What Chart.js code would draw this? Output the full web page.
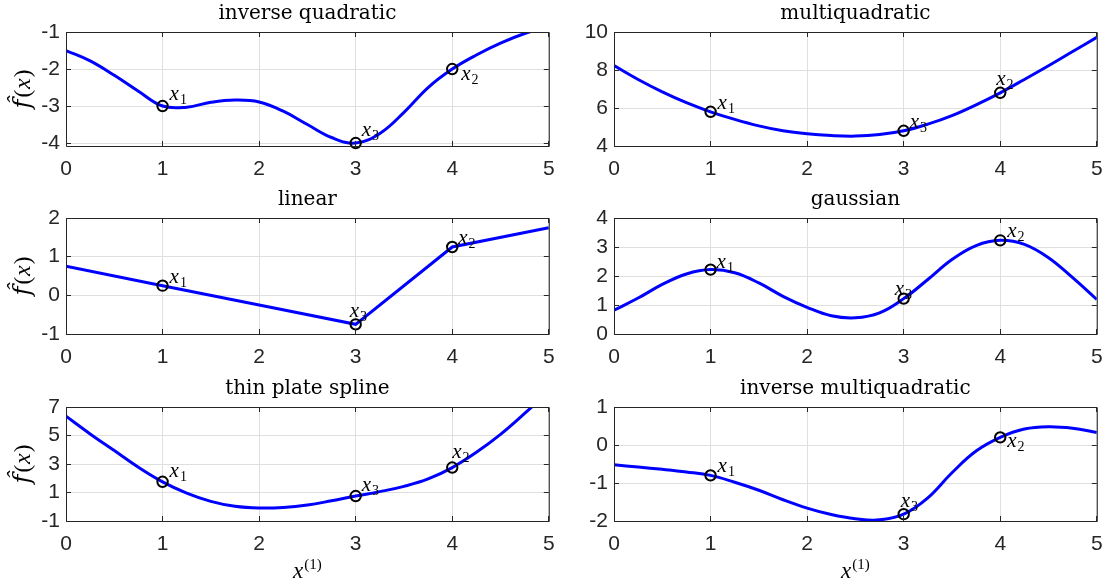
<!DOCTYPE html>
<html>
<head>
<meta charset="utf-8">
<script src="https://cdn.jsdelivr.net/npm/chart.js@4.4.1/dist/chart.umd.min.js"></script>
<style>
  body { margin: 0; background: #fff; }
  #wrap { position: relative; width: 1104px; height: 584px; overflow: hidden; background: #fff; }
  #wrap canvas { position: absolute; }
</style>
</head>
<body>
<div id="wrap"></div>
<script>
// valori
var xGrid = [0, 0.25, 0.5, 0.75, 1, 1.25, 1.5, 1.75, 2, 2.25, 2.5, 2.75, 3, 3.25, 3.5, 3.75, 4, 4.25, 4.5, 4.75, 5];
var invQuadY = [-1.50, -1.78, -2.17, -2.60, -3.00, -3.03, -2.90, -2.84, -2.89, -3.14, -3.50, -3.85, -4.00, -3.74, -3.17, -2.50, -2.00, -1.62, -1.30, -1.04, -0.85];
var multiQuadY = [8.23, 7.50, 6.85, 6.28, 5.80, 5.40, 5.06, 4.80, 4.64, 4.55, 4.52, 4.60, 4.80, 5.15, 5.60, 6.17, 6.80, 7.50, 8.22, 8.97, 9.72];
var linearX = [0, 1, 2, 3, 4, 5];
var linearY = [0.75, 0.25, -0.25, -0.75, 1.25, 1.75];
var gaussY = [0.82, 1.24, 1.71, 2.07, 2.22, 2.11, 1.76, 1.30, 0.92, 0.63, 0.56, 0.73, 1.22, 1.88, 2.57, 3.05, 3.23, 3.09, 2.63, 1.94, 1.19];
var tpsY = [6.35, 5.11, 3.94, 2.77, 1.75, 0.96, 0.38, 0.03, -0.09, -0.05, 0.12, 0.42, 0.75, 1.06, 1.43, 1.95, 2.75, 3.82, 5.08, 6.55, 8.10];
var invMultiY = [-0.52, -0.58, -0.64, -0.71, -0.80, -0.98, -1.19, -1.44, -1.66, -1.83, -1.94, -1.97, -1.82, -1.39, -0.73, -0.16, 0.20, 0.42, 0.48, 0.44, 0.33];

// punti campione x1, x2, x3
var sampleX = [1, 4, 3];
var invQuadS = [-3, -2, -4];
var multiQuadS = [5.8, 6.8, 4.8];
var linearS = [0.25, 1.25, -0.75];
var gaussS = [2.22, 3.23, 1.22];
var tpsS = [1.75, 2.75, 0.75];
var invMultiS = [-0.8, 0.2, -1.82];

var titles = ['inverse quadratic', 'multiquadratic', 'linear', 'gaussian', 'thin plate spline', 'inverse multiquadratic'];
var xTicks = [0, 1, 2, 3, 4, 5];
var invQuadTicks = [-4, -3, -2, -1];
var multiQuadTicks = [4, 6, 8, 10];
var linearTicks = [-1, 0, 1, 2];
var gaussTicks = [0, 1, 2, 3, 4];
var tpsTicks = [-1, 1, 3, 5, 7];
var invMultiTicks = [-2, -1, 0, 1];

// layout (pixel)
var colLeft = [66, 614], colRight = [549, 1097];
var canvasLeft = [0, 560], canvasRight = [556, 1104];
var rowTop = [32, 218, 407], rowBottom = [146, 334, 521];
var titleH = 30, xAxisH = [38, 38, 63];

var tickFont = {family: 'Liberation Sans', size: 21};
var tickColor = '#262626';
var gridColor = '#dfdfdf';

var panels = [
    {title: titles[0], x: xGrid, y: invQuadY, s: invQuadS, min: -4.08, max: -1, ticks: invQuadTicks, row: 0, col: 0, tension: 0.4, offs: [[7, -6], [9, 11], [6, -7]]},
    {title: titles[1], x: xGrid, y: multiQuadY, s: multiQuadS, min: 4, max: 10, ticks: multiQuadTicks, row: 0, col: 1, tension: 0.4, offs: [[7, -3], [-4, -8], [6, -3]]},
    {title: titles[2], x: linearX, y: linearY, s: linearS, min: -1, max: 2, ticks: linearTicks, row: 1, col: 0, tension: 0, offs: [[7, -3], [6, -3], [-6, -7]]},
    {title: titles[3], x: xGrid, y: gaussY, s: gaussS, min: 0, max: 4, ticks: gaussTicks, row: 1, col: 1, tension: 0.4, offs: [[6, -2], [7, -3], [-9, -4]]},
    {title: titles[4], x: xGrid, y: tpsY, s: tpsS, min: -1, max: 7, ticks: tpsTicks, row: 2, col: 0, tension: 0.4, offs: [[7, -5], [0, -10], [6, -5]]},
    {title: titles[5], x: xGrid, y: invMultiY, s: invMultiS, min: -2, max: 1, ticks: invMultiTicks, row: 2, col: 1, tension: 0.4, offs: [[7, -3], [7, 10], [-3, -7]]}
];

function toPoints(xs, ys) {
    var pts = [];
    for (var i = 0; i < xs.length; i++) {
        pts.push({x: xs[i], y: ys[i]});
    }
    return pts;
}

// scrive una sequenza di pezzi di testo con font diversi
function drawRuns(ctx, runs, x, y, align) {
    var total = 0;
    runs.forEach(function (r) {
        ctx.font = r.font;
        r.w = ctx.measureText(r.t).width;
        total += r.w + (r.gap || 0);
    });
    var cx = align === 'center' ? x - total / 2 : x;
    runs.forEach(function (r) {
        ctx.font = r.font;
        ctx.fillText(r.t, cx, y + (r.dy || 0));
        cx += r.w + (r.gap || 0);
    });
}

var matlabAxes = {
    id: 'matlabAxes',
    afterDraw: function (chart) {
        var opt = chart.options.plugins.matlabAxes;
        var ctx = chart.ctx;
        var a = chart.chartArea;
        var sx = chart.scales.x, sy = chart.scales.y;
        ctx.save();
        ctx.strokeStyle = '#262626';
        ctx.lineWidth = 1;
        ctx.beginPath();
        ctx.rect(a.left + 0.5, a.top + 0.5, a.right - a.left, a.bottom - a.top);
        sx.ticks.forEach(function (t) {
            var p = Math.round(sx.getPixelForValue(t.value) - 0.5) + 0.5;
            ctx.moveTo(p, a.bottom); ctx.lineTo(p, a.bottom - 5);
            ctx.moveTo(p, a.top); ctx.lineTo(p, a.top + 5);
        });
        sy.ticks.forEach(function (t) {
            var p = Math.round(sy.getPixelForValue(t.value) - 0.5) + 0.5;
            ctx.moveTo(a.left, p); ctx.lineTo(a.left + 5, p);
            ctx.moveTo(a.right, p); ctx.lineTo(a.right - 5, p);
        });
        ctx.stroke();

        // etichette x1 x2 x3
        ctx.fillStyle = '#000';
        ctx.textBaseline = 'alphabetic';
        ctx.textAlign = 'left';
        var meta = chart.getDatasetMeta(0);
        opt.offs.forEach(function (o, i) {
            var pt = meta.data[i];
            drawRuns(ctx, [
                {t: 'x', font: 'italic 21px "Liberation Serif"', gap: 1},
                {t: String(i + 1), font: '14px "Liberation Serif"', dy: 4}
            ], pt.x + o[0], pt.y + o[1], 'left');
        });

        if (opt.yLabel) {
            ctx.save();
            ctx.translate(23, (a.top + a.bottom) / 2);
            ctx.rotate(-Math.PI / 2);
            drawRuns(ctx, [
                {t: 'f\u0302', font: 'italic 24px "DejaVu Serif"', gap: 2},
                {t: '(', font: '23px "Liberation Serif"', gap: 1},
                {t: 'x', font: 'italic 24px "Liberation Serif"', gap: 1},
                {t: ')', font: '23px "Liberation Serif"'}
            ], 0, 7, 'center');
            ctx.restore();
        }
        if (opt.xLabel) {
            drawRuns(ctx, [
                {t: 'x', font: 'italic 23px "Liberation Serif"', gap: 1},
                {t: '(1)', font: '15px "Liberation Serif"', dy: -9}
            ], (a.left + a.right) / 2, chart.height - 6, 'center');
        }
        ctx.restore();
    }
};

var wrap = document.getElementById('wrap');

panels.forEach(function (p) {
    var c = p.col, r = p.row;
    var canvas = document.createElement('canvas');
    var w = canvasRight[c] - canvasLeft[c];
    var h = rowBottom[r] - rowTop[r] + titleH + xAxisH[r];
    canvas.width = w;
    canvas.height = h;
    canvas.style.left = canvasLeft[c] + 'px';
    canvas.style.top = (rowTop[r] - titleH) + 'px';
    wrap.appendChild(canvas);

    var yW = colLeft[c] - canvasLeft[c];
    var xH = xAxisH[r];

    new Chart(canvas, {
        type: 'scatter',
        data: {
            datasets: [{
                data: toPoints(sampleX, p.s),
                showLine: false,
                pointRadius: 5.2,
                pointBorderWidth: 2,
                pointBorderColor: '#000',
                pointBackgroundColor: 'rgba(0,0,0,0)',
                clip: false
            }, {
                data: toPoints(p.x, p.y),
                showLine: true,
                borderColor: '#0000ff',
                borderWidth: 3,
                pointRadius: 0,
                tension: p.tension,
                fill: false
            }]
        },
        plugins: [matlabAxes],
        options: {
            responsive: false,
            animation: false,
            devicePixelRatio: 1,
            events: [],
            layout: {padding: {left: 0, right: canvasRight[c] - colRight[c], top: 0, bottom: 0}},
            plugins: {
                legend: {display: false},
                tooltip: {enabled: false},
                title: {
                    display: true,
                    text: p.title,
                    fullSize: false,
                    color: '#000',
                    font: {family: 'DejaVu Serif', size: 20, weight: 'normal', lineHeight: 1.2},
                    padding: {top: 0, bottom: 6}
                },
                matlabAxes: {offs: p.offs, yLabel: c === 0, xLabel: r === 2}
            },
            scales: {
                x: {
                    type: 'linear',
                    min: 0,
                    max: 5,
                    afterBuildTicks: function (s) { s.ticks = xTicks.map(function (v) { return {value: v}; }); },
                    afterFit: function (s) { s.height = xH; s.paddingLeft = 0; s.paddingRight = 0; },
                    grid: {color: gridColor, drawTicks: false},
                    border: {display: false},
                    ticks: {font: tickFont, color: tickColor, padding: 11, maxRotation: 0, autoSkip: false,
                        callback: function (v) { return String(v); }}
                },
                y: {
                    type: 'linear',
                    min: p.min,
                    max: p.max,
                    afterBuildTicks: function (s) { s.ticks = p.ticks.map(function (v) { return {value: v}; }); },
                    afterFit: function (s) { s.width = yW; s.paddingTop = 0; s.paddingBottom = 0; },
                    grid: {color: gridColor, drawTicks: false},
                    border: {display: false},
                    ticks: {font: tickFont, color: tickColor, padding: 6, autoSkip: false,
                        callback: function (v) { return String(v); }}
                }
            }
        }
    });
});
</script>
</body>
</html>
